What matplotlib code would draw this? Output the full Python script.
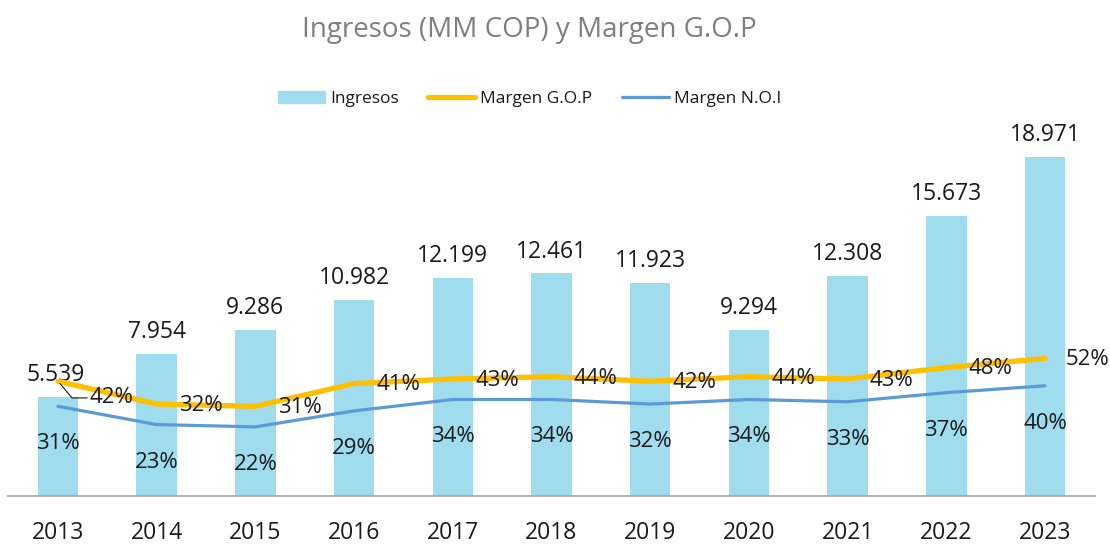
import matplotlib
matplotlib.use('Agg')
import matplotlib.pyplot as plt
from matplotlib.patches import Patch
from matplotlib.lines import Line2D

plt.rcParams['font.family'] = ['Open Sans', 'DejaVu Sans']

# data
years = ['2013', '2014', '2015', '2016', '2017', '2018', '2019', '2020', '2021', '2022', '2023']
ingresos = [5539, 7954, 9286, 10982, 12199, 12461, 11923, 9294, 12308, 15673, 18971]
margen_gop = [0.42, 0.32, 0.31, 0.41, 0.43, 0.44, 0.42, 0.44, 0.43, 0.48, 0.52]
margen_noi = [0.31, 0.23, 0.22, 0.29, 0.34, 0.34, 0.32, 0.34, 0.33, 0.37, 0.40]

bar_color = '#9FDCEE'
gop_color = '#FFC000'
noi_color = '#5B9BD5'
txt_color = '#1A1A1A'

fig = plt.figure(figsize=(11.1, 5.46), dpi=100)
ax = fig.add_axes([8 / 1110, 50 / 546, 1087 / 1110, 366 / 546])
ax2 = ax.twinx()

x = list(range(len(years)))
ax.bar(x, ingresos, width=0.41, color=bar_color, zorder=1)
ax.set_xlim(-0.507, len(years) - 1 + 0.507)
ax.set_ylim(0, 20480)

# value labels above bars
for xi, v in zip(x, ingresos):
    lbl = '{:,}'.format(v).replace(',', '.')
    ax.annotate(lbl, (xi, v), xytext=(-2 if xi == 0 else 0, 7), textcoords='offset points',
                ha='center', va='bottom', fontsize=16.5, color=txt_color)

ax2.plot(x, margen_gop, color=gop_color, lw=3.8, solid_capstyle='round', zorder=3)
ax2.plot(x, margen_noi, color=noi_color, lw=2.3, solid_capstyle='round', zorder=3)
ax2.set_ylim(-0.0833, 1.522)

for xi, v in zip(x, margen_gop):
    if xi == 0:
        ax2.annotate('{:.0%}'.format(v), (xi, v), xytext=(23, -12), textcoords='offset points',
                     ha='left', va='center', fontsize=16, color=txt_color,
                     arrowprops=dict(arrowstyle='-', color=txt_color, lw=0.8, shrinkA=0, shrinkB=2,
                                     connectionstyle='angle,angleA=0,angleB=-50,rad=0'))
    else:
        ax2.annotate('{:.0%}'.format(v), (xi, v), xytext=(15 if xi == len(x) - 1 else 16, -1),
                     textcoords='offset points',
                     ha='left', va='center', fontsize=16, color=txt_color)

for xi, v in zip(x, margen_noi):
    ax2.annotate('{:.0%}'.format(v), (xi, v), xytext=(0, -27), textcoords='offset points',
                 ha='center', va='center', fontsize=16, color=txt_color)

for a in (ax, ax2):
    for s in ('top', 'right', 'left'):
        a.spines[s].set_visible(False)
    a.set_yticks([])
ax2.spines['bottom'].set_visible(False)
ax.spines['bottom'].set_color('#A6A6A6')
ax.spines['bottom'].set_linewidth(1.2)

ax.set_xticks(x)
ax.set_xticklabels(years, fontsize=16.5, color=txt_color)
ax.tick_params(axis='x', length=0, pad=18)

fig.text(0.477, 0.945, 'Ingresos (MM COP) y Margen G.O.P', ha='center', va='center',
         fontsize=20, color='#7F7F7F')

handles = [Patch(color=bar_color),
           Line2D([0], [0], color=gop_color, lw=3.8, solid_capstyle='round'),
           Line2D([0], [0], color=noi_color, lw=2.3, solid_capstyle='round')]
fig.legend(handles, ['Ingresos', 'Margen G.O.P', 'Margen N.O.I'], loc='center',
           bbox_to_anchor=(0.477, 0.818), ncol=3, frameon=False, fontsize=12.5,
           handlelength=2.7, handletextpad=0.3, columnspacing=1.7, labelcolor=txt_color)

fig.savefig('out.png', dpi=100)
